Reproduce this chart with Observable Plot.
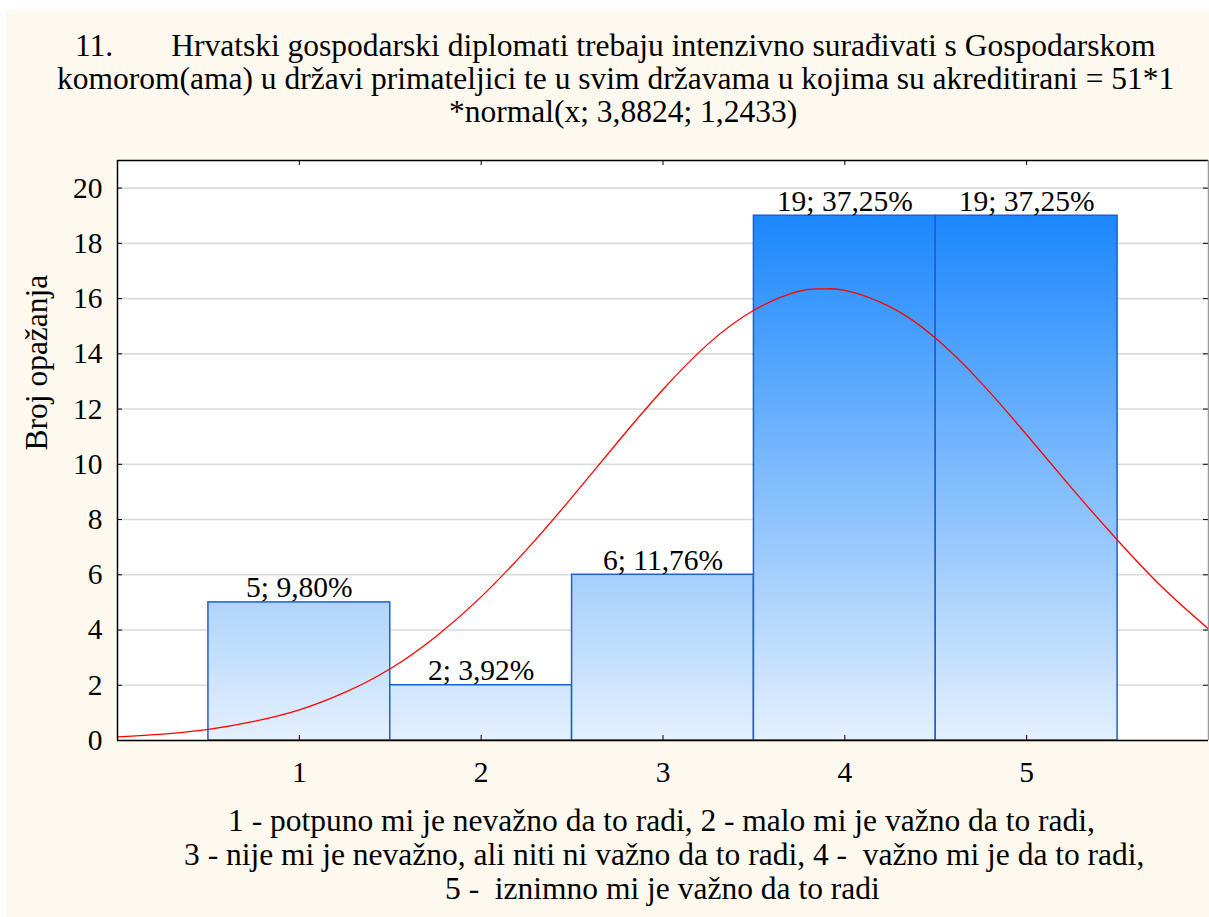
<!DOCTYPE html>
<html>
<head>
<meta charset="utf-8">
<script src="https://cdn.jsdelivr.net/npm/d3@7"></script>
<script src="https://cdn.jsdelivr.net/npm/@observablehq/plot@0.6"></script>
<style>
  html, body { margin: 0; padding: 0; background: #ffffff; }
  body { width: 1209px; height: 917px; position: relative; overflow: hidden; color: #000; }
  #bg { position: absolute; left: 6px; top: 10px; width: 1203px; height: 907px; background: #fef9ee; }
  .t { position: absolute; white-space: pre; font-size: 31.5px; line-height: 34px; }
  #chart { position: absolute; left: 0; top: 140px; }
</style>
</head>
<body>
<div id="bg"></div>
<div class="t" style="top:29px;left:75px">11.<span style="display:inline-block;width:58px"></span>Hrvatski gospodarski diplomati trebaju intenzivno surađivati s Gospodarskom</div>
<div class="t" style="top:62px;left:57px">komorom(ama) u državi primateljici te u svim državama u kojima su akreditirani = 51*1</div>
<div class="t" style="top:95px;left:449px">*normal(x; 3,8824; 1,2433)</div>
<div id="chart"></div>
<div class="t" style="top:804px;left:228px">1 - potpuno mi je nevažno da to radi, 2 - malo mi je važno da to radi,</div>
<div class="t" style="top:838px;left:184px">3 - nije mi je nevažno, ali niti ni važno da to radi, 4 -  važno mi je da to radi,</div>
<div class="t" style="top:872px;left:445px">5 -  iznimno mi je važno da to radi</div>
<script>
// ---- data ----
const categories = [1, 2, 3, 4, 5];
const counts = [5, 2, 6, 19, 19];
const barLabels = ["5; 9,80%", "2; 3,92%", "6; 11,76%", "19; 37,25%", "19; 37,25%"];
const yTicks = [0, 2, 4, 6, 8, 10, 12, 14, 16, 18, 20];
const yLabel = "Broj opažanja";
// fitted normal curve
const curveX = [0, 0.25, 0.5, 0.75, 1, 1.25, 1.5, 1.75, 2, 2.25, 2.5, 2.75, 3, 3.25, 3.5, 3.75, 3.88, 4, 4.25, 4.5, 4.75, 5, 5.25, 5.5, 5.75, 6];
const curveY = [0.13, 0.23, 0.40, 0.69, 1.11, 1.74, 2.60, 3.76, 5.20, 6.91, 8.81, 10.80, 12.71, 14.37, 15.58, 16.27, 16.35, 16.30, 15.70, 14.56, 12.95, 11.07, 9.12, 7.25, 5.52, 4.04];

const bars = categories.map((c, i) => ({c, n: counts[i], label: barLabels[i]}));
const curve = curveX.map((x, i) => ({x, y: curveY[i]}));

const FONT = '"Liberation Serif", "Times New Roman", Tinos, serif';
const W = 1209, H = 660, ML = 117, MR = 1, MT = 20, MB = 60;
const frameW = W - ML - MR, frameH = H - MT - MB;

const gradient = (index, scales) => {
  const defs = d3.create("svg:defs");
  const g = defs.append("linearGradient").attr("id", "barGrad")
    .attr("gradientUnits", "userSpaceOnUse")
    .attr("x1", 0).attr("x2", 0)
    .attr("y1", scales.y(0)).attr("y2", scales.y(19));
  g.append("stop").attr("offset", "0%").attr("stop-color", "#e4f0fd");
  g.append("stop").attr("offset", "100%").attr("stop-color", "#1b87fd");
  return defs.node();
};

const chart = Plot.plot({
  width: W, height: H,
  marginLeft: ML, marginRight: MR, marginTop: MT, marginBottom: MB,
  x: {domain: [0, 6]},
  y: {domain: [0, 21]},
  style: {background: "transparent", fontFamily: FONT, fontSize: "29.5px", color: "#000"},
  marks: [
    gradient,
    Plot.frame({fill: "#ffffff", stroke: null}),
    Plot.ruleY(yTicks, {stroke: "#dadada", strokeWidth: 1.6}),
    Plot.rectY(bars, {x1: d => d.c - 0.5, x2: d => d.c + 0.5, y: "n", fill: "url(#barGrad)", stroke: "#1f5fd1", strokeWidth: 1.5}),
    Plot.line(curve, {x: "x", y: "y", stroke: "#ff0000", strokeWidth: 1.3, curve: "natural"}),
    Plot.text(bars, {x: "c", y: "n", text: "label", lineAnchor: "bottom", dy: -5, fontSize: 29.5, fill: "#000"}),
    // inward ticks
    Plot.tickX(categories, {x: d => d, insetTop: frameH - 5, stroke: "#000"}),
    Plot.tickX(categories, {x: d => d, insetBottom: frameH - 5, stroke: "#000"}),
    Plot.tickY(yTicks, {y: d => d, insetRight: frameW - 5, stroke: "#000"}),
    Plot.tickY(yTicks, {y: d => d, insetLeft: frameW - 5, stroke: "#000"}),
    // frame lines
    Plot.ruleX([0], {stroke: "#000", strokeWidth: 1.5}),
    Plot.ruleY([0], {stroke: "#000", strokeWidth: 1.5}),
    Plot.ruleY([21], {stroke: "#000", strokeWidth: 1.5}),
    Plot.ruleX([6], {stroke: "#9a9a9a", strokeWidth: 1.5}),
    Plot.axisX(categories, {tickSize: 0, tickPadding: 21, label: null, fontSize: 29.5, tickFormat: d => String(d)}),
    Plot.axisY(yTicks, {tickSize: 0, tickPadding: 15, label: null, fontSize: 29.5}),
    Plot.text([yLabel], {frameAnchor: "left", dx: -81, rotate: -90, fontSize: 31.5, fill: "#000"})
  ]
});
document.getElementById("chart").appendChild(chart);
// apply the serif family inline on every text-bearing element
document.querySelectorAll(".t").forEach(el => { el.style.fontFamily = FONT; });
chart.querySelectorAll("text, tspan, g").forEach(el => { el.style.fontFamily = FONT; });
</script>
</body>
</html>
